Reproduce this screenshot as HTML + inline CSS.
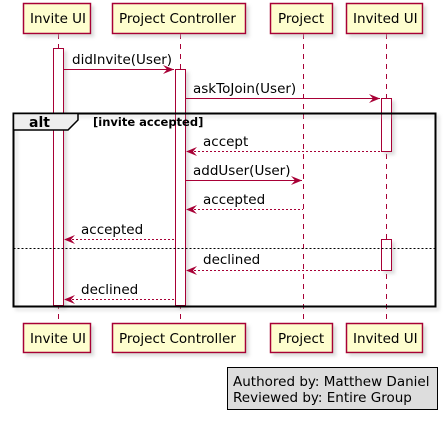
<!DOCTYPE html>
<html><head><meta charset="utf-8"><style>
html,body{margin:0;padding:0;background:#fff;}
svg{display:block;font-family:"DejaVu Sans","Liberation Sans",sans-serif;}
</style></head><body>
<svg width="448" height="421" viewBox="0 0 448 421" xmlns="http://www.w3.org/2000/svg">
<defs>
<filter id="sh" x="-10%" y="-10%" width="130%" height="140%"><feOffset dx="3" dy="3" in="SourceAlpha" result="o"/><feGaussianBlur in="o" stdDeviation="1.5" result="b"/><feColorMatrix in="b" type="matrix" values="0 0 0 0 0.5  0 0 0 0 0.5  0 0 0 0 0.5  0 0 0 0.5 0" result="c"/><feMerge><feMergeNode in="c"/><feMergeNode in="SourceGraphic"/></feMerge></filter>
</defs>
<g stroke="#A80036" stroke-width="1" stroke-dasharray="5,5">
<line x1="58.5" y1="34" x2="58.5" y2="323"/>
<line x1="180.5" y1="34" x2="180.5" y2="323"/>
<line x1="303.5" y1="34" x2="303.5" y2="323"/>
<line x1="386.5" y1="34" x2="386.5" y2="323"/>
</g>
<g fill="#fff" stroke="#A80036" filter="url(#sh)">
<rect x="53.5" y="48.5" width="10" height="257"/>
<rect x="175.5" y="69.5" width="10" height="236"/>
<rect x="381.5" y="98.5" width="10" height="53"/>
<rect x="381.5" y="239.5" width="10" height="31"/>
</g>
<g fill="#FEFECE" stroke="#A80036" stroke-width="1.5" filter="url(#sh)">
<rect x="23.5" y="3.5" width="67" height="30"/>
<rect x="112.5" y="3.5" width="133" height="30"/>
<rect x="270.5" y="3.5" width="62" height="30"/>
<rect x="346.5" y="3.5" width="76" height="30"/>
<rect x="23.5" y="323.5" width="67" height="29"/>
<rect x="112.5" y="323.5" width="133" height="29"/>
<rect x="270.5" y="323.5" width="62" height="29"/>
<rect x="346.5" y="323.5" width="76" height="29"/>
</g>
<g font-size="13.5" fill="#000">
<text x="30" y="23">Invite UI</text>
<text x="119" y="23">Project Controller</text>
<text x="278" y="23">Project</text>
<text x="353" y="23">Invited UI</text>
<text x="30" y="343">Invite UI</text>
<text x="119" y="343">Project Controller</text>
<text x="278" y="343">Project</text>
<text x="353" y="343">Invited UI</text>
</g>
<rect x="13.5" y="113.5" width="422" height="193" fill="none" stroke="#000" stroke-width="2" filter="url(#sh)"/>
<polygon points="13.5,113.5 78,113.5 78,120 68,130 13.5,130" fill="#EEEEEE" stroke="#000" stroke-width="1.5"/>
<text x="29" y="127" font-size="14" font-weight="bold">alt</text>
<text x="93" y="126" font-size="11.5" font-weight="bold">[invite accepted]</text>
<line x1="13.5" y1="248.5" x2="435.5" y2="248.5" stroke="#000" stroke-dasharray="2,2"/>
<g stroke="#A80036" fill="none">
<line x1="64" y1="69.5" x2="174" y2="69.5"/>
<line x1="186" y1="98.5" x2="380" y2="98.5"/>
<line x1="186" y1="180.5" x2="302" y2="180.5"/>
<g stroke-dasharray="2,2">
<line x1="190" y1="151.5" x2="381" y2="151.5"/>
<line x1="190" y1="209.5" x2="303" y2="209.5"/>
<line x1="68" y1="239.5" x2="175" y2="239.5"/>
<line x1="190" y1="270.5" x2="381" y2="270.5"/>
<line x1="68" y1="299.5" x2="175" y2="299.5"/>
</g>
</g>
<g fill="#A80036">
<polygon points="174,69.5 163,65 167,69.5 163,74"/>
<polygon points="380,98.5 369,94 373,98.5 369,103"/>
<polygon points="302,180.5 291,176 295,180.5 291,185"/>
<polygon points="186,151.5 197,147 193,151.5 197,156"/>
<polygon points="186,209.5 197,205 193,209.5 197,214"/>
<polygon points="64,239.5 75,235 71,239.5 75,244"/>
<polygon points="186,270.5 197,266 193,270.5 197,275"/>
<polygon points="64,299.5 75,295 71,299.5 75,304"/>
</g>
<g font-size="13.5" fill="#000">
<text x="72" y="64">didInvite(User)</text>
<text x="193" y="93">askToJoin(User)</text>
<text x="203" y="146">accept</text>
<text x="193" y="175">addUser(User)</text>
<text x="203" y="204">accepted</text>
<text x="81" y="234">accepted</text>
<text x="203" y="264">declined</text>
<text x="81" y="294">declined</text>
</g>
<rect x="227.5" y="367.5" width="210" height="42" fill="#DDDDDD" stroke="#000"/>
<g font-size="13.5" fill="#000">
<text x="233" y="386">Authored by: Matthew Daniel</text>
<text x="233" y="402">Reviewed by: Entire Group</text>
</g>
</svg>
</body></html>
